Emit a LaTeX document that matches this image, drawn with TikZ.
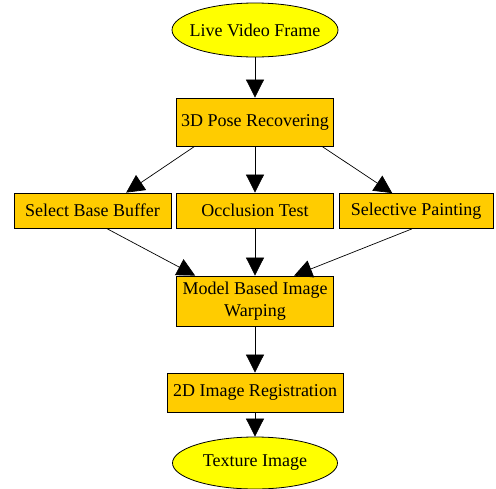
\documentclass[tikz,border=0pt]{standalone}
\usepackage{fontspec}
\setmainfont{Liberation Serif}
\usepackage{xcolor}
\usetikzlibrary{shapes,arrows.meta}
\definecolor{boxfill}{RGB}{255,204,0}
\definecolor{ovalfill}{RGB}{255,255,0}

\begin{document}
\begin{tikzpicture}[x=1pt, y=-1pt, line width=0.8pt,
    font=\fontsize{18}{22}\selectfont,
    stepbox/.style={rectangle, draw, fill=boxfill, minimum width=157pt, minimum height=35pt, inner sep=2pt, align=center},
    oval/.style={ellipse, draw, fill=ovalfill, minimum width=166pt, minimum height=54pt, inner xsep=-12pt, inner ysep=0pt},
    arr/.style={-{Triangle[length=18pt,width=18pt]}, line width=0.7pt}]
    \useasboundingbox (0,0) rectangle (496,488);
    \node[oval] (live) at (255,30) {Live Video Frame};
    \node[stepbox, minimum height=48pt] (pose) at (255,122) {3D Pose Recovering};
    \node[stepbox] (base) at (92.5,210.5) {Select Base Buffer};
    \node[stepbox] (occl) at (255,210.5) {Occlusion Test};
    \node[stepbox, minimum width=154pt] (paint) at (416,211) {Selective Painting};
    \node[stepbox, minimum height=50pt] (warp) at (255,301) {Model Based Image\\Warping};
    \node[stepbox, minimum width=176pt, minimum height=39pt] (reg) at (255,392.5) {2D Image Registration};
    \node[oval, minimum width=165pt, minimum height=52pt] (tex) at (255,463) {Texture Image};

    \draw[arr] (live) -- (pose);
    \draw[arr] (pose.202) -- (base.28);
    \draw[arr] (pose) -- (occl);
    \draw[arr] (pose.-20) -- (paint.143);
    \draw[arr] (base.-52) -- (warp.157);
    \draw[arr] (occl) -- (warp);
    \draw[arr] (paint.257) -- (warp.33);
    \draw[arr] (warp) -- (reg);
    \draw[arr] (reg) -- (tex);
\end{tikzpicture}
\end{document}
